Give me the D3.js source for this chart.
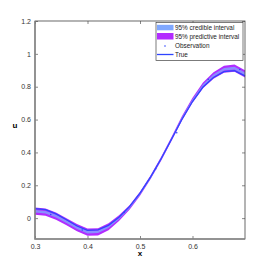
<!DOCTYPE html>
<html>
<head>
<meta charset="utf-8">
<script src="https://cdn.jsdelivr.net/npm/d3@7"></script>
<style>
  body { margin: 0; background: #fff; }
  svg { display: block; }
  .tick text { font-family: "Liberation Sans", Arial, sans-serif; font-size: 7px; fill: #333; }
</style>
</head>
<body>
<figure id="chart" style="margin:0"></figure>
<script>
// values
let xs       = [0.30, 0.32, 0.34, 0.36, 0.38, 0.40, 0.42, 0.44, 0.46, 0.48, 0.50, 0.52, 0.54, 0.56, 0.58, 0.60, 0.62, 0.64, 0.66, 0.68, 0.70];
let meanU    = [0.042, 0.036, 0.012, -0.022, -0.058, -0.085, -0.083, -0.052, 0.000, 0.065, 0.148, 0.248, 0.360, 0.482, 0.608, 0.718, 0.808, 0.868, 0.906, 0.913, 0.878];
let credHalf = [0.008, 0.008, 0.008, 0.008, 0.008, 0.008, 0.008, 0.008, 0.007, 0.006, 0.006, 0.006, 0.006, 0.006, 0.006, 0.006, 0.007, 0.008, 0.008, 0.008, 0.008];
let predHalf = [0.022, 0.022, 0.022, 0.022, 0.022, 0.022, 0.022, 0.021, 0.018, 0.014, 0.012, 0.012, 0.012, 0.012, 0.013, 0.015, 0.018, 0.020, 0.021, 0.022, 0.022];
let trueU    = [0.058, 0.052, 0.026, -0.010, -0.048, -0.074, -0.072, -0.044, 0.006, 0.070, 0.152, 0.250, 0.360, 0.480, 0.602, 0.710, 0.798, 0.856, 0.892, 0.898, 0.866];

let obsX = [0.33, 0.39, 0.47, 0.53, 0.57, 0.63, 0.69];
let obsU = [0.022, -0.072, 0.035, 0.300, 0.520, 0.845, 0.905];

let xTicks = [0.3, 0.4, 0.5, 0.6];
let yTicks = [0, 0.2, 0.4, 0.6, 0.8, 1, 1.2];

let legendLabels = ["95% credible interval", "95% predictive interval", "Observation", "True"];

let dimensions = {
    width: 270,
    height: 270,
    margin: { top: 21, right: 25, bottom: 31, left: 35 }
};
dimensions.boundedWidth = dimensions.width - dimensions.margin.left - dimensions.margin.right;
dimensions.boundedHeight = dimensions.height - dimensions.margin.top - dimensions.margin.bottom;

let colCred = "#80a8ff";
let colPred = "#b22cff";
let colTrue = "#2f45ff";

let svg = d3.select("figure#chart")
    .append("svg")
    .attr("width", dimensions.width)
    .attr("height", dimensions.height);

let g = svg.append("g")
    .attr("transform", `translate(${dimensions.margin.left},${dimensions.margin.top})`);

let xScale = d3.scaleLinear().domain([0.3, 0.7]).range([0, dimensions.boundedWidth]);
let yScale = d3.scaleLinear().domain([-0.127, 1.2]).range([dimensions.boundedHeight, 0]);

let rows = xs.map((x, i) => ({ x: x, m: meanU[i], c: credHalf[i], p: predHalf[i], t: trueU[i] }));

// predictive band
g.append("path")
    .datum(rows)
    .attr("fill", colPred)
    .attr("d", d3.area().x(d => xScale(d.x)).y0(d => yScale(d.m - d.p)).y1(d => yScale(d.m + d.p)));

// credible band
g.append("path")
    .datum(rows)
    .attr("fill", colCred)
    .attr("opacity", 0.8)
    .attr("d", d3.area().x(d => xScale(d.x)).y0(d => yScale(d.m - d.c)).y1(d => yScale(d.m + d.c)));

// observations
g.selectAll("circle.obs")
    .data(obsX.map((x, i) => ({ x: x, u: obsU[i] })))
    .enter()
    .append("circle")
    .attr("class", "obs")
    .attr("cx", d => xScale(d.x))
    .attr("cy", d => yScale(d.u))
    .attr("r", 0.8)
    .attr("fill", colTrue);

// true line
g.append("path")
    .datum(rows)
    .attr("fill", "none")
    .attr("stroke", colTrue)
    .attr("stroke-width", 1.3)
    .attr("d", d3.line().x(d => xScale(d.x)).y(d => yScale(d.t)));

// axes, matlab style box with inward ticks
let xAxis = g.append("g")
    .attr("transform", `translate(0,${dimensions.boundedHeight})`)
    .call(d3.axisBottom(xScale).tickValues(xTicks).tickSize(-3).tickPadding(5).tickFormat(d3.format("")));
let xTop = g.append("g")
    .call(d3.axisTop(xScale).tickValues(xTicks).tickSize(-3).tickFormat(""));
let yAxis = g.append("g")
    .call(d3.axisLeft(yScale).tickValues(yTicks).tickSize(-3).tickPadding(4).tickFormat(d3.format("")));
let yRight = g.append("g")
    .attr("transform", `translate(${dimensions.boundedWidth},0)`)
    .call(d3.axisRight(yScale).tickValues(yTicks).tickSize(-3).tickFormat(""));

[xAxis, xTop, yAxis, yRight].forEach(a => {
    a.select(".domain").remove();
    a.selectAll("line").attr("stroke", "#555").attr("stroke-width", 0.7);
});

g.append("rect")
    .attr("x", 0).attr("y", 0)
    .attr("width", dimensions.boundedWidth)
    .attr("height", dimensions.boundedHeight)
    .attr("fill", "none")
    .attr("stroke", "#444")
    .attr("stroke-width", 0.8);
// left and bottom edges look heavier
g.append("path")
    .attr("d", `M0,0V${dimensions.boundedHeight}H${dimensions.boundedWidth}`)
    .attr("fill", "none")
    .attr("stroke", "#888")
    .attr("stroke-width", 1.5);

// axis labels
svg.append("text")
    .attr("x", dimensions.margin.left + dimensions.boundedWidth / 2)
    .attr("y", 256)
    .attr("text-anchor", "middle")
    .style("font-family", "Liberation Sans, Arial, sans-serif")
    .style("font-size", "8px")
    .style("font-weight", "bold")
    .text("x");
svg.append("text")
    .attr("x", 15)
    .attr("y", 128)
    .attr("text-anchor", "middle")
    .style("font-family", "Liberation Sans, Arial, sans-serif")
    .style("font-size", "8px")
    .style("font-weight", "bold")
    .text("u");

// legend
let lg = svg.append("g").attr("transform", "translate(156,22.5)");
lg.append("rect")
    .attr("x", 0).attr("y", 0)
    .attr("width", 87).attr("height", 38)
    .attr("fill", "#fff")
    .attr("stroke", "#444")
    .attr("stroke-width", 0.7);

let rowY = [5, 14, 23.5, 32];
lg.append("rect").attr("x", 1).attr("y", 2.3).attr("width", 16.5).attr("height", 5.5).attr("fill", colCred);
lg.append("rect").attr("x", 1).attr("y", 10.5).attr("width", 16.5).attr("height", 6.5).attr("fill", colPred);
lg.append("circle").attr("cx", 9).attr("cy", rowY[2]).attr("r", 0.8).attr("fill", colTrue);
lg.append("line").attr("x1", 1).attr("x2", 17.5).attr("y1", rowY[3]).attr("y2", rowY[3])
    .attr("stroke", colTrue).attr("stroke-width", 1.3);

lg.selectAll("text.lab")
    .data(legendLabels)
    .enter()
    .append("text")
    .attr("class", "lab")
    .attr("x", 19)
    .attr("y", (d, i) => rowY[i] + 2.4)
    .style("font-family", "Liberation Sans, Arial, sans-serif")
    .style("font-size", "6.4px")
    .attr("fill", "#222")
    .text(d => d);
</script>
</body>
</html>
